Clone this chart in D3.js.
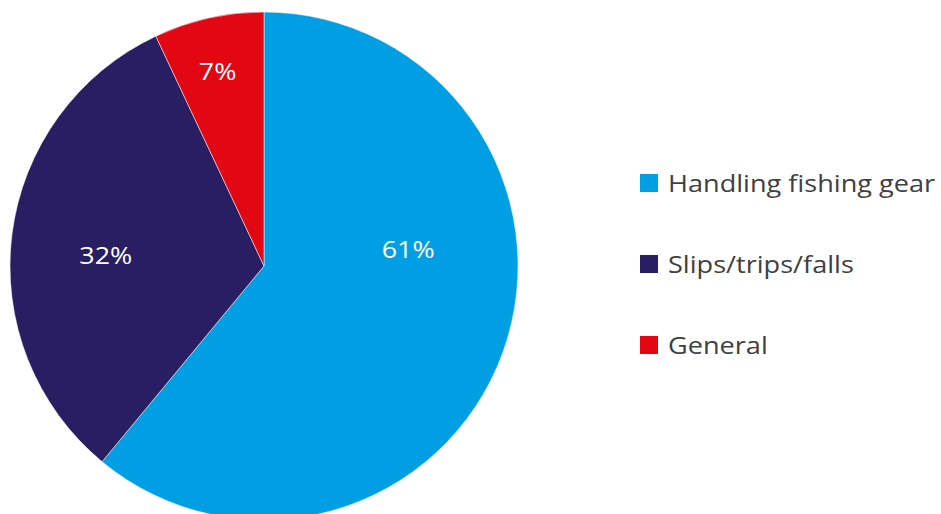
<!DOCTYPE html>
<html lang="en">
<head>
    <meta charset="UTF-8">
    <title>Injury causes</title>
    <script src="https://d3js.org/d3.v7.min.js"></script>
    <style>
        body { margin: 0; background: #fff; }
        svg { display: block; font-family: "Open Sans", Lato, sans-serif; }
    </style>
</head>
<body>
<div id="chart"></div>
<script>
    const categories = ["Handling fishing gear", "Slips/trips/falls", "General"];
    const values = [61, 32, 7];
    const colors = ["#009FE3", "#2A1E63", "#E30613"];

    const width = 941, height = 514;
    const cx = 264, cy = 266, radius = 254;

    // Excel "best fit" style label nudges relative to the slice centroid
    const labelNudge = [[-4, -70], [-2, 9], [-12, -41]];

    const svg = d3.select("#chart")
        .append("svg")
        .attr("width", width)
        .attr("height", height);

    const data = categories.map((c, i) => ({ name: c, value: values[i], color: colors[i] }));

    const pie = d3.pie()
        .sort(null)
        .value(d => d.value);

    const arc = d3.arc()
        .innerRadius(0)
        .outerRadius(radius);

    const labelArc = d3.arc()
        .innerRadius(radius * 0.62)
        .outerRadius(radius * 0.62);

    const arcs = pie(data);

    const g = svg.append("g")
        .attr("transform", `translate(${cx},${cy})`);

    g.selectAll("path")
        .data(arcs)
        .join("path")
        .attr("d", arc)
        .attr("fill", d => d.data.color)
        .attr("stroke", "#fff")
        .attr("stroke-width", 0.5);

    g.selectAll("text")
        .data(arcs)
        .join("text")
        .attr("transform", (d, i) => {
            const [x, y] = labelArc.centroid(d);
            return `translate(${x + labelNudge[i][0]},${y + labelNudge[i][1]}) scale(1.12,1)`;
        })
        .attr("text-anchor", "middle")
        .attr("dy", "0.36em")
        .attr("fill", "#fff")
        .attr("font-size", 24)
        .text(d => d.data.value + "%");

    // legend
    const legend = svg.append("g")
        .attr("transform", "translate(640,183)");

    const item = legend.selectAll("g")
        .data(data)
        .join("g")
        .attr("transform", (d, i) => `translate(0,${i * 81})`);

    item.append("rect")
        .attr("x", 0)
        .attr("y", -9)
        .attr("width", 18)
        .attr("height", 18)
        .attr("fill", d => d.color);

    item.append("text")
        .attr("transform", "translate(28,0) scale(1.13,1)")
        .attr("dy", "0.36em")
        .attr("fill", "#404040")
        .attr("font-size", 24)
        .text(d => d.name);
</script>
</body>
</html>
